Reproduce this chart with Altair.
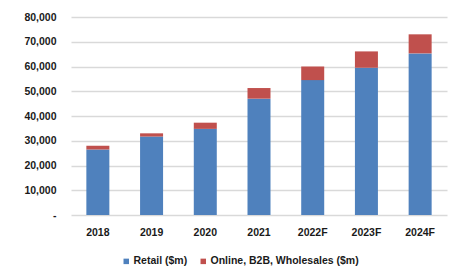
import altair as alt
import pandas as pd

years = ["2018", "2019", "2020", "2021", "2022F", "2023F", "2024F"]
retail = [26500, 31700, 34800, 47000, 54500, 59500, 65300]
online = [1500, 1300, 2500, 4300, 5500, 6600, 7700]
series = ["Retail ($m)", "Online, B2B, Wholesales ($m)"]
colors = ["#4F81BD", "#C0504D"]

rows = []
for i, y in enumerate(years):
    rows.append({"year": y, "series": series[0], "value": retail[i], "ord": 0})
    rows.append({"year": y, "series": series[1], "value": online[i], "ord": 1})
df = pd.DataFrame(rows)

font = "Liberation Sans"
fs = 10.5
tc = "#1a1a1a"

chart = alt.Chart(df).mark_bar(size=23).encode(
    x=alt.X("year:N", sort=years, title=None,
            axis=alt.Axis(labelAngle=0, domain=False, ticks=False, labelPadding=12,
                          labelFontSize=fs, labelFontWeight="bold", labelColor=tc, labelFont=font)),
    y=alt.Y("value:Q", title=None,
            scale=alt.Scale(domain=[0, 80000]),
            axis=alt.Axis(values=list(range(0, 80001, 10000)), domain=False, ticks=False,
                          labelPadding=15, labelFontSize=fs, labelFontWeight="bold", labelColor=tc,
                          labelFont=font, gridColor="#D9D9D9", gridWidth=1.5,
                          labelExpr="datum.value == 0 ? '-' : format(datum.value, ',')")),
    color=alt.Color("series:N", sort=series,
                    scale=alt.Scale(domain=series, range=colors),
                    legend=alt.Legend(title=None, orient="none", direction="horizontal",
                                      legendX=50, legendY=239, symbolType="square", symbolSize=30,
                                      symbolStrokeWidth=0, labelFontSize=fs, labelFontWeight="bold",
                                      labelColor=tc, labelFont=font, columnPadding=10,
                                      symbolOffset=0, labelOffset=2)),
    order=alt.Order("ord:Q", sort="ascending"),
).properties(
    width=376, height=198,
    autosize=alt.AutoSizeParams(type="none"),
    padding={"left": 63, "top": 9, "right": 9, "bottom": 53},
).configure_view(stroke=None).configure_scale(bandPaddingInner=0.57)

chart.save("out.html", embed_options={"renderer": "svg", "actions": False})
